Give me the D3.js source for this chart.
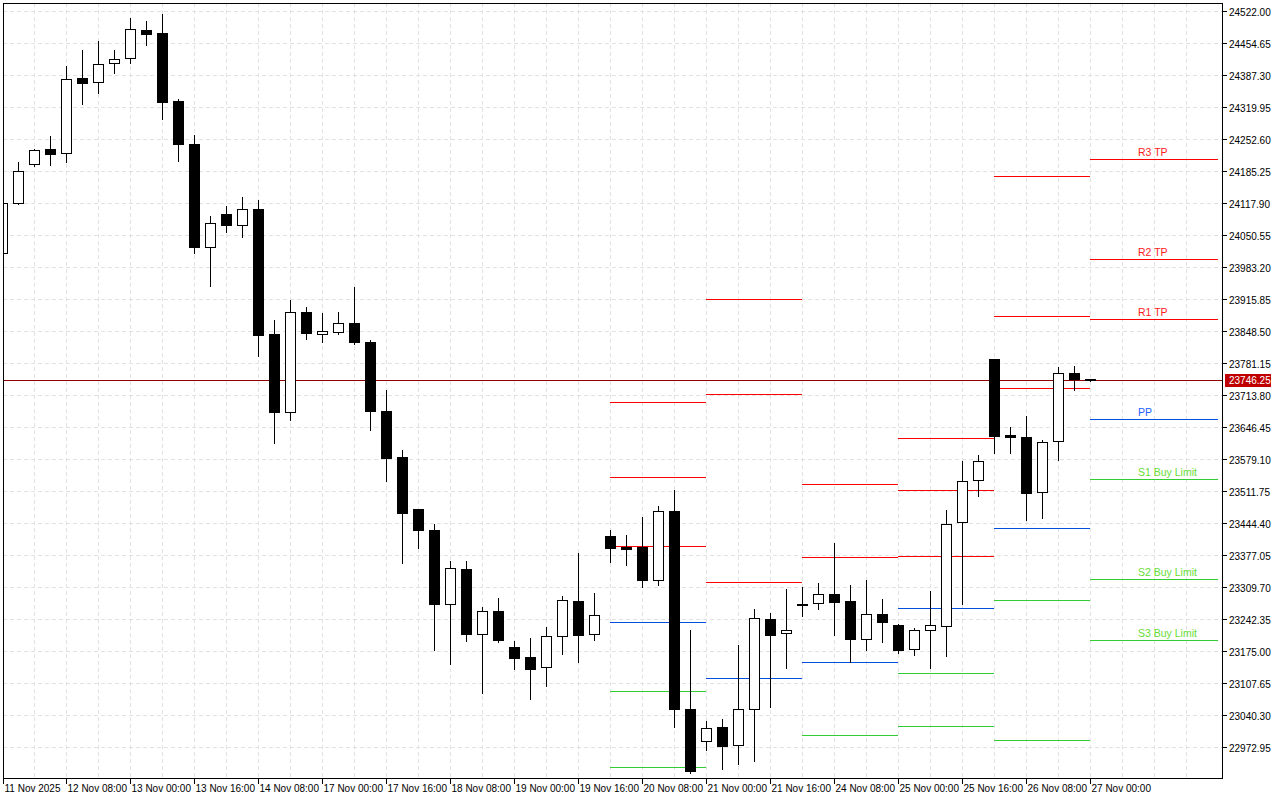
<!DOCTYPE html>
<html><head><meta charset="utf-8">
<script src="https://cdn.jsdelivr.net/npm/d3@7"></script>
<style>body{margin:0;background:#fff}svg{display:block;font-family:"Liberation Sans",Arial,sans-serif}</style>
</head><body><svg id="c" width="1280" height="800"></svg>
<script>
const open_  = [24013.0,24118.1,24200.2,24231.7,24223.3,24381.0,24372.6,24412.6,24423.1,24482.0,24475.7,24332.7,24242.2,24026.1,24095.0,24071.9,24105.5,23842.6,23678.5,23888.9,23842.6,23846.8,23865.8,23825.8,23680.7,23583.8,23474.5,23430.3,23274.7,23348.3,23211.6,23259.9,23184.2,23163.2,23142.2,23207.4,23281.0,23211.6,23417.7,23394.5,23394.5,23325.1,23470.3,23053.8,22986.5,23016.0,22978.1,23053.8,23243.1,23213.7,23274.7,23276.8,23295.7,23281.0,23201.1,23253.6,23230.5,23180.0,23220.0,23228.4,23447.1,23535.5,23790.0,23630.2,23626.0,23510.2,23617.5,23760.6,23748.0];
const high   = [24124.4,24204.4,24231.7,24259.0,24406.3,24439.9,24458.9,24439.9,24507.2,24500.9,24515.7,24336.9,24261.1,24090.8,24111.8,24130.7,24124.4,23872.1,23914.1,23899.4,23886.8,23888.9,23941.5,23830.0,23724.8,23598.6,23474.5,23442.9,23365.1,23365.1,23268.3,23287.3,23196.8,23203.2,23226.3,23291.5,23381.9,23297.8,23430.3,23419.8,23457.6,23480.8,23514.4,23220.0,23028.6,23032.8,23188.4,23264.1,23255.7,23306.2,23310.4,23318.8,23403.0,23314.6,23325.1,23285.2,23232.6,23224.2,23302.0,23472.4,23575.4,23588.1,23790.0,23647.0,23670.1,23619.6,23773.2,23775.3,23748.0];
const low    = [24006.7,24116.0,24196.0,24198.1,24204.4,24326.3,24349.5,24391.6,24412.6,24450.5,24294.8,24206.5,24013.0,23943.6,24057.1,24046.6,23796.3,23613.3,23661.7,23832.1,23825.8,23842.6,23821.6,23640.7,23533.4,23360.9,23392.4,23177.9,23148.5,23196.8,23087.5,23194.7,23138.0,23074.9,23102.2,23169.5,23152.7,23198.9,23363.0,23356.7,23310.4,23314.6,23016.0,22919.2,22967.6,22927.6,22938.1,22944.4,23058.0,23140.1,23249.4,23264.1,23209.5,23152.7,23177.9,23194.7,23171.6,23167.4,23140.1,23165.3,23274.7,23501.8,23592.3,23592.3,23451.3,23455.5,23577.5,23724.8,23743.8];
const close_ = [24118.1,24185.4,24229.6,24221.2,24378.9,24370.5,24410.5,24421.0,24484.1,24473.6,24330.6,24242.2,24026.1,24076.1,24071.9,24105.5,23840.5,23678.5,23888.9,23844.7,23848.9,23865.8,23825.8,23680.7,23581.7,23466.1,23430.3,23274.7,23350.4,23211.6,23259.9,23198.9,23161.1,23138.0,23207.4,23283.1,23209.5,23251.5,23392.4,23390.3,23325.1,23470.3,23053.8,22923.4,23013.9,22976.0,23053.8,23245.2,23209.5,23220.0,23272.6,23295.7,23278.9,23201.1,23253.6,23236.8,23177.9,23220.0,23230.5,23442.9,23533.4,23575.4,23628.1,23626.0,23508.1,23615.4,23760.6,23748.0,23746.25];

const xLabelIdx = [0,4,8,12,16,20,24,28,32,36,40,44,48,52,56,60,64,68];
const xLabels = ["11 Nov 2025","12 Nov 08:00","13 Nov 00:00","13 Nov 16:00","14 Nov 08:00","17 Nov 00:00","17 Nov 16:00","18 Nov 08:00","19 Nov 00:00","19 Nov 16:00","20 Nov 08:00","21 Nov 00:00","21 Nov 16:00","24 Nov 08:00","25 Nov 00:00","25 Nov 16:00","26 Nov 08:00","27 Nov 00:00"];
const yTicks = [24522.00,24454.65,24387.30,24319.95,24252.60,24185.25,24117.90,24050.55,23983.20,23915.85,23848.50,23781.15,23713.80,23646.45,23579.10,23511.75,23444.40,23377.05,23309.70,23242.35,23175.00,23107.65,23040.30,22972.95];
const lastPrice = 23746.25;

const pivotStart = [38,44,50,56,62];
const pivotEnd   = [44,50,56,62,68];
const pivotVals  = [[23699.6,23541.8,23396.7,23236.8,23091.7,22931.8],[23916.2,23716.4,23320.9,23119.0],[23527.1,23373.5,23152.7,22999.1],[23623.9,23514.4,23375.6,23266.2,23129.5,23018.1],[24174.9,23880.5,23729.0,23434.5,23283.1,22988.6]];
const pivotKinds = [["R","R","R","P","S","S"],["R","R","R","P"],["R","R","P","S"],["R","R","R","P","S","S"],["R","R","R","P","S","S"]];
const curNames = ["R3 TP","R2 TP","R1 TP","PP","S1 Buy Limit","S2 Buy Limit","S3 Buy Limit"];
const curVals  = [24210.7,24000.4,23874.2,23663.8,23537.6,23327.2,23198.9];
const curKinds = ["R","R","R","P","S","S","S"];

const lineCol = {R:"#ff0000",P:"#0050dd",S:"#33cc33"};
const textCol = {R:"#ff2020",P:"#2060ff",S:"#66dd33"};

const svg = d3.select("#c");
const L=3,R=1222,T=3,B=778;
const x = d3.scaleLinear().domain([0,1]).range([2,18]);
const y = d3.scaleLinear().domain([22972.95,24522.00]).range([747,11]);

svg.append("defs").append("clipPath").attr("id","clip").append("rect").attr("x",L).attr("y",T).attr("width",R-L).attr("height",B-T);
const g = svg.append("g").attr("clip-path","url(#clip)");

const vg = d3.range(0,76,2);
g.selectAll(".vg").data(vg).join("line").attr("x1",d=>x(d)+0.5).attr("x2",d=>x(d)+0.5).attr("y1",T).attr("y2",B)
 .attr("stroke","#e2e2e2").attr("stroke-dasharray","4,3");
g.selectAll(".hg").data(yTicks).join("line").attr("y1",d=>Math.round(y(d))+0.5).attr("y2",d=>Math.round(y(d))+0.5).attr("x1",L).attr("x2",R)
 .attr("stroke","#e2e2e2").attr("stroke-dasharray","4,3");

pivotStart.forEach((s,k)=>{
  pivotVals[k].forEach((v,j)=>{
    g.append("line").attr("x1",x(s)).attr("x2",x(pivotEnd[k])).attr("y1",Math.round(y(v))+0.5).attr("y2",Math.round(y(v))+0.5)
     .attr("stroke",lineCol[pivotKinds[k][j]]).attr("stroke-width",1);
  });
});
curVals.forEach((v,j)=>{
  const yy=Math.round(y(v))+0.5;
  g.append("line").attr("x1",x(68)).attr("x2",1218).attr("y1",yy).attr("y2",yy).attr("stroke",lineCol[curKinds[j]]);
  g.append("text").attr("x",1138).attr("y",yy-4).attr("font-size",10.5)
   .attr("fill",textCol[curKinds[j]]).text(curNames[j]);
});

g.append("line").attr("x1",L).attr("x2",R).attr("y1",Math.round(y(lastPrice))+0.5).attr("y2",Math.round(y(lastPrice))+0.5).attr("stroke","#900000");

const idx = d3.range(open_.length);
g.selectAll(".wk").data(idx).join("line").attr("x1",i=>x(i)+0.5).attr("x2",i=>x(i)+0.5)
 .attr("y1",i=>Math.round(y(high[i]))).attr("y2",i=>Math.round(y(low[i]))+1).attr("stroke","#000");
g.selectAll(".bd").data(idx).join("rect")
 .attr("x",i=>x(i)-4.5).attr("width",10)
 .attr("y",i=>Math.round(y(Math.max(open_[i],close_[i])))+0.5)
 .attr("height",i=>Math.max(1,Math.round(y(Math.min(open_[i],close_[i])))-Math.round(y(Math.max(open_[i],close_[i])))))
 .attr("fill",i=>close_[i]>=open_[i]?"#fff":"#000").attr("stroke","#000");

svg.append("rect").attr("x",L+0.5).attr("y",T+0.5).attr("width",R-L).attr("height",B-T).attr("fill","none").attr("stroke","#000");

yTicks.forEach(v=>{
  const yy=Math.round(y(v))+0.5;
  svg.append("line").attr("x1",R).attr("x2",R+5).attr("y1",yy).attr("y2",yy).attr("stroke","#000");
  svg.append("text").attr("x",R+7).attr("y",yy+4).attr("font-size",10).attr("fill","#000").text(v.toFixed(2));
});
const ly=Math.round(y(lastPrice));
svg.append("rect").attr("x",R+3).attr("y",ly-6).attr("width",46).attr("height",13).attr("fill","#c00000");
svg.append("text").attr("x",R+7).attr("y",ly+4).attr("font-size",10).attr("fill","#fff").text(lastPrice.toFixed(2));

xLabelIdx.forEach((i,k)=>{
  const xx=Math.max(L,x(i))+0.5;
  svg.append("line").attr("x1",xx).attr("x2",xx).attr("y1",B).attr("y2",B+6).attr("stroke","#000");
  svg.append("text").attr("x",xx+1).attr("y",B+14).attr("font-size",10).attr("fill","#000").text(xLabels[k]);
});
</script></body></html>
